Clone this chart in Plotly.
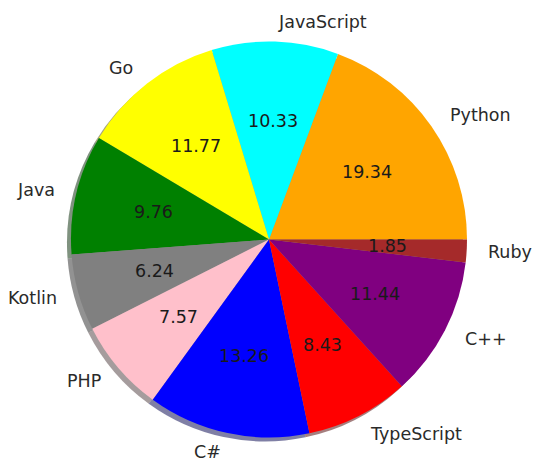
import math
import plotly.graph_objects as go

languages = ["Python", "JavaScript", "Go", "Java", "Kotlin", "PHP", "C#", "TypeScript", "C++", "Ruby"]
shares = [19.34, 10.33, 11.77, 9.76, 6.24, 7.57, 13.26, 8.43, 11.44, 1.85]
colors = ["orange", "cyan", "yellow", "green", "gray", "pink", "blue", "red", "purple", "brown"]
rgb = {
    "orange": (255, 165, 0), "cyan": (0, 255, 255), "yellow": (255, 255, 0),
    "green": (0, 128, 0), "gray": (128, 128, 128), "pink": (255, 192, 203),
    "blue": (0, 0, 255), "red": (255, 0, 0), "purple": (128, 0, 128), "brown": (165, 42, 42),
}

W, H = 533, 461
CX, CY, R = 269, 239.5, 198
SHIFT = 4


def domain(cx, cy):
    return dict(x=[(cx - R) / W, (cx + R) / W], y=[1 - (cy + R) / H, 1 - (cy - R) / H])


total = sum(shares)
# plotly's counterclockwise puts the first slice clockwise of `rotation`
rot = 90 - shares[0] / total * 360

shadow_cols = ["rgba(%d,%d,%d,0.5)" % tuple(int(0.3 * v) for v in rgb[c]) for c in colors]

fig = go.Figure()
# shadow like matplotlib's shadow=True
fig.add_trace(go.Pie(
    labels=languages, values=shares, sort=False, direction="counterclockwise", rotation=rot,
    marker=dict(colors=shadow_cols, line=dict(width=0)), textinfo="none", hoverinfo="skip",
    domain=domain(CX - SHIFT, CY + SHIFT),
))
fig.add_trace(go.Pie(
    labels=languages, values=shares, sort=False, direction="counterclockwise", rotation=rot,
    marker=dict(colors=colors, line=dict(width=0)), textinfo="none",
    domain=domain(CX, CY),
))

start = 0.0
annotations = []
for lang, v in zip(languages, shares):
    mid = math.radians((start + v / 2) / total * 360)
    start += v
    c, s = math.cos(mid), math.sin(mid)
    # outer label at 1.1 r
    lx, ly = CX + 1.1 * R * c, CY - 1.1 * R * s
    annotations.append(dict(
        x=lx / W, y=1 - ly / H, xref="paper", yref="paper", text=lang, showarrow=False,
        xanchor="left" if c > 0 else "right", yanchor="middle",
        font=dict(size=17.5, color="#2a2a2a"),
    ))
    # value at 0.6 r
    vx, vy = CX + 0.6 * R * c, CY - 0.6 * R * s
    annotations.append(dict(
        x=vx / W, y=1 - vy / H, xref="paper", yref="paper", text="%.2f" % v, showarrow=False,
        xanchor="center", yanchor="middle",
        font=dict(size=17.5, color="#1a1a1a"),
    ))

fig.update_layout(
    width=W, height=H, margin=dict(l=0, r=0, t=0, b=0),
    paper_bgcolor="white", plot_bgcolor="white", showlegend=False,
    font=dict(family="DejaVu Sans"), annotations=annotations,
)

# drop the default body margin so the figure sits at the window's corner
fig.write_html(
    "out.html",
    config={"displayModeBar": False},
    post_script="document.body.style.margin='0';document.body.style.overflow='hidden';",
)
